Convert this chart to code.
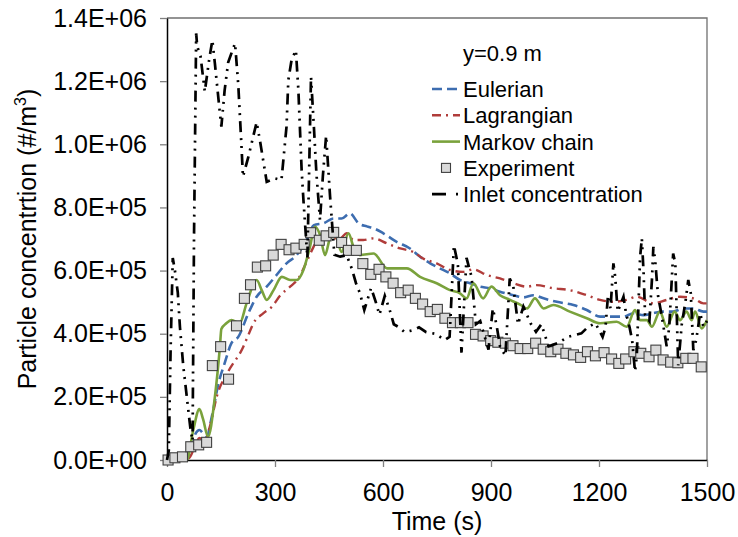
<!DOCTYPE html>
<html>
<head>
<meta charset="utf-8">
<script src="https://cdn.jsdelivr.net/npm/d3@7"></script>
<style>
  body { margin: 0; background: #fff; }
  text { font-family: "Liberation Sans", Arial, sans-serif; fill: #000; }
</style>
</head>
<body>
<div id="chart"></div>
<script>
//size of the picture and of the plot box inside it
var width = 738,
  height = 537;
var margin = { top: 18, right: 31, bottom: 77, left: 167 };

//axis ticks
var xTicks = [0, 300, 600, 900, 1200, 1500];
var yTicks = [0, 2e5, 4e5, 6e5, 8e5, 1e6, 1.2e6, 1.4e6];
var yTickLabels = ["0.0E+00", "2.0E+05", "4.0E+05", "6.0E+05", "8.0E+05", "1.0E+06", "1.2E+06", "1.4E+06"];

//legend names, in the order of the legend
var seriesNames = ["Eulerian", "Lagrangian", "Markov chain", "Experiment", "Inlet concentration"];

//eulerian model (time s, concentration #/m3)
var eulerianTime = [0, 40, 65, 80, 90, 100, 110, 125, 143, 160, 179, 198, 226, 249, 277, 300, 332, 360, 388, 408, 435, 463, 485, 508, 532, 555, 574, 601, 638, 675, 703, 731, 758, 786, 814, 842, 869, 897, 925, 962, 990, 1018, 1046, 1083, 1129, 1166, 1203, 1240, 1268, 1296, 1323, 1351, 1378, 1406, 1434, 1462, 1490, 1500];
var eulerianValue = [0, 2e3, 20e3, 85e3, 95e3, 85e3, 75e3, 140e3, 243e3, 306e3, 370e3, 390e3, 465e3, 517e3, 549e3, 580e3, 623e3, 649e3, 697e3, 744e3, 750e3, 765e3, 765e3, 781e3, 750e3, 740e3, 734e3, 718e3, 691e3, 670e3, 644e3, 623e3, 607e3, 591e3, 570e3, 560e3, 549e3, 544e3, 533e3, 522e3, 515e3, 522e3, 512e3, 501e3, 491e3, 475e3, 454e3, 454e3, 454e3, 465e3, 459e3, 465e3, 470e3, 470e3, 480e3, 480e3, 470e3, 470e3];

//lagrangian model
var lagrangianTime = [0, 60, 80, 90, 105, 120, 138, 170, 210, 226, 240, 268, 291, 315, 342, 365, 388, 407, 425, 448, 481, 499, 518, 545, 574, 611, 648, 684, 712, 749, 786, 823, 851, 888, 925, 962, 1000, 1026, 1073, 1119, 1166, 1203, 1240, 1277, 1305, 1351, 1388, 1425, 1462, 1490, 1500];
var lagrangianValue = [0, 5e3, 50e3, 70e3, 60e3, 110e3, 200e3, 280e3, 354e3, 396e3, 433e3, 465e3, 485e3, 522e3, 549e3, 575e3, 628e3, 675e3, 713e3, 702e3, 702e3, 718e3, 697e3, 697e3, 702e3, 686e3, 670e3, 659e3, 638e3, 623e3, 602e3, 596e3, 604e3, 586e3, 575e3, 560e3, 549e3, 554e3, 544e3, 538e3, 522e3, 507e3, 501e3, 507e3, 517e3, 496e3, 507e3, 517e3, 512e3, 496e3, 496e3];

//markov chain model
var markovTime = [0, 55, 73, 90, 100, 114, 133, 147, 151, 165, 179, 202, 221, 249, 263, 277, 296, 319, 342, 360, 379, 397, 411, 425, 439, 453, 467, 485, 504, 518, 536, 574, 611, 666, 703, 749, 786, 814, 832, 851, 878, 901, 925, 953, 981, 1000, 1022, 1046, 1073, 1119, 1166, 1203, 1249, 1277, 1300, 1314, 1333, 1347, 1369, 1388, 1410, 1425, 1443, 1457, 1467, 1485, 1500];
var markovValue = [0, 0, 95e3, 161e3, 130e3, 74e3, 200e3, 359e3, 415e3, 433e3, 443e3, 433e3, 496e3, 570e3, 538e3, 507e3, 538e3, 580e3, 570e3, 570e3, 602e3, 675e3, 739e3, 713e3, 649e3, 702e3, 713e3, 659e3, 718e3, 675e3, 649e3, 654e3, 607e3, 607e3, 580e3, 560e3, 538e3, 528e3, 512e3, 560e3, 512e3, 549e3, 522e3, 507e3, 492e3, 480e3, 512e3, 480e3, 491e3, 470e3, 449e3, 433e3, 438e3, 422e3, 475e3, 443e3, 443e3, 422e3, 470e3, 422e3, 470e3, 443e3, 470e3, 443e3, 470e3, 417e3, 443e3];

//measured points
var experimentTime = [3, 22, 43, 66, 88, 110, 126, 149, 171, 193, 215, 232, 251, 274, 295, 317, 339, 358, 381, 399, 423, 442, 463, 485, 504, 526, 544, 566, 589, 608, 628, 649, 670, 690, 710, 731, 751, 772, 793, 815, 836, 857, 878, 899, 919, 940, 961, 981, 1002, 1024, 1045, 1066, 1086, 1108, 1129, 1149, 1168, 1190, 1214, 1235, 1255, 1274, 1297, 1316, 1339, 1358, 1378, 1399, 1419, 1441, 1461, 1484];
var experimentValue = [0, 7e3, 10e3, 42e3, 48e3, 56e3, 299e3, 359e3, 256e3, 425e3, 512e3, 555e3, 611e3, 615e3, 649e3, 683e3, 666e3, 671e3, 683e3, 720e3, 696e3, 710e3, 721e3, 689e3, 664e3, 664e3, 622e3, 588e3, 604e3, 580e3, 560e3, 530e3, 538e3, 512e3, 494e3, 470e3, 477e3, 449e3, 435e3, 435e3, 435e3, 398e3, 393e3, 378e3, 373e3, 370e3, 362e3, 353e3, 353e3, 370e3, 351e3, 343e3, 351e3, 338e3, 333e3, 325e3, 343e3, 330e3, 340e3, 320e3, 306e3, 320e3, 343e3, 338e3, 327e3, 348e3, 317e3, 310e3, 308e3, 322e3, 322e3, 295e3];

//inlet concentration
var inletTime = [0, 5, 10, 16, 22, 30, 36, 45, 55, 65, 71, 75, 81, 84, 93, 105, 117, 126, 133, 145, 151, 160, 170, 189, 198, 207, 211, 226, 249, 258, 277, 300, 318, 332, 337, 346, 358, 365, 374, 379, 390, 400, 408, 415, 425, 433, 442, 453, 465, 481, 499, 513, 525, 536, 548, 567, 580, 590, 605, 620, 630, 645, 660, 680, 700, 720, 745, 772, 785, 797, 808, 818, 832, 846, 858, 870, 880, 893, 905, 915, 925, 940, 952, 962, 975, 990, 1010, 1025, 1040, 1060, 1085, 1114, 1151, 1170, 1190, 1210, 1218, 1225, 1232, 1240, 1245, 1252, 1268, 1275, 1285, 1292, 1300, 1305, 1314, 1319, 1324, 1328, 1340, 1347, 1351, 1356, 1364, 1373, 1388, 1395, 1406, 1412, 1420, 1430, 1440, 1448, 1455, 1462, 1470, 1481, 1490, 1500];
var inletValue = [0, 30e3, 350e3, 640e3, 600e3, 530e3, 420e3, 300e3, 200e3, 100e3, 60e3, 700e3, 1351e3, 1310e3, 1280e3, 1167e3, 1267e3, 1330e3, 1256e3, 1120e3, 1056e3, 1170e3, 1260e3, 1320e3, 1188e3, 992e3, 897e3, 960e3, 1070e3, 1013e3, 881e3, 892e3, 887e3, 1056e3, 1203e3, 1267e3, 1298e3, 1170e3, 918e3, 823e3, 640e3, 1214e3, 1056e3, 908e3, 760e3, 900e3, 1027e3, 834e3, 650e3, 644e3, 649e3, 607e3, 560e3, 528e3, 475e3, 545e3, 500e3, 460e3, 520e3, 470e3, 430e3, 420e3, 405e3, 410e3, 420e3, 405e3, 400e3, 380e3, 390e3, 680e3, 620e3, 340e3, 640e3, 580e3, 430e3, 440e3, 400e3, 350e3, 480e3, 430e3, 360e3, 330e3, 575e3, 550e3, 430e3, 486e3, 433e3, 406e3, 430e3, 360e3, 370e3, 390e3, 401e3, 422e3, 433e3, 390e3, 420e3, 522e3, 480e3, 623e3, 580e3, 470e3, 517e3, 465e3, 420e3, 380e3, 280e3, 330e3, 640e3, 702e3, 590e3, 460e3, 440e3, 570e3, 675e3, 633e3, 520e3, 465e3, 360e3, 420e3, 654e3, 623e3, 300e3, 430e3, 500e3, 570e3, 528e3, 348e3, 380e3, 465e3, 422e3, 440e3];

var svg = d3
  .select("#chart")
  .append("svg")
  .attr("width", width)
  .attr("height", height);

var x = d3
  .scaleLinear()
  .domain([0, 1500])
  .range([margin.left, width - margin.right]);

var y = d3
  .scaleLinear()
  .domain([0, 1.4e6])
  .range([height - margin.bottom, margin.top]);

//top and right frame of the plot box
svg
  .append("path")
  .attr("d", "M" + x(0) + "," + y(1.4e6) + "H" + x(1500) + "V" + y(0))
  .attr("fill", "none")
  .attr("stroke", "#707070")
  .attr("stroke-width", 1.3);

//axes
var xAxis = svg
  .append("g")
  .attr("transform", "translate(0," + y(0) + ")")
  .call(
    d3
      .axisBottom(x)
      .tickValues(xTicks)
      .tickFormat(d3.format("d"))
      .tickSize(7)
      .tickSizeOuter(0)
      .tickPadding(16)
  );

var yAxis = svg
  .append("g")
  .attr("transform", "translate(" + x(0) + ",0)")
  .call(
    d3
      .axisLeft(y)
      .tickValues(yTicks)
      .tickFormat(function(d, i) {
        return yTickLabels[i];
      })
      .tickSize(7)
      .tickSizeOuter(0)
      .tickPadding(13)
  );

[xAxis, yAxis].forEach(function(a) {
  a.select(".domain").attr("stroke", "#000").attr("stroke-width", 1.5);
  a.selectAll(".tick line").attr("stroke", "#808080").attr("stroke-width", 1.3);
  a.selectAll(".tick text")
    .attr("font-size", 25)
    .attr("font-family", "Liberation Sans, Arial, sans-serif")
    .attr("fill", "#000");
});

//axis titles
svg
  .append("text")
  .attr("x", (x(0) + x(1500)) / 2)
  .attr("y", 530)
  .attr("text-anchor", "middle")
  .attr("font-size", 25)
  .text("Time (s)");

var yTitle = svg
  .append("text")
  .attr("transform", "translate(36," + (y(0) + y(1.4e6)) / 2 + ") rotate(-90)")
  .attr("text-anchor", "middle")
  .attr("font-size", 25);
yTitle.append("tspan").text("Particle concentrtion (#/m");
yTitle
  .append("tspan")
  .attr("font-size", 16)
  .attr("dy", -10)
  .text("3");
yTitle
  .append("tspan")
  .attr("dy", 10)
  .text(")");

//line makers
function lineOf(times, values, curve) {
  var pts = times.map(function(t, i) {
    return [t, values[i]];
  });
  return d3
    .line()
    .x(function(d) {
      return x(d[0]);
    })
    .y(function(d) {
      return y(d[1]);
    })
    .curve(curve)(pts);
}

var styles = [
  { color: "#3d6db0", dash: "10,5", width: 2.6 },
  { color: "#b03c3a", dash: "9,5,2,5", width: 2.4 },
  { color: "#7aa23c", dash: null, width: 2.6 },
  null,
  { color: "#000", dash: "11,6,2,6,2,6", width: 2.7 }
];

var models = [
  [eulerianTime, eulerianValue],
  [lagrangianTime, lagrangianValue],
  [markovTime, markovValue]
];

models.forEach(function(m, i) {
  svg
    .append("path")
    .attr("d", lineOf(m[0], m[1], d3.curveMonotoneX))
    .attr("fill", "none")
    .attr("stroke", styles[i].color)
    .attr("stroke-width", styles[i].width)
    .attr("stroke-dasharray", styles[i].dash);
});

//experiment squares
var sq = 10;
svg
  .selectAll(".exp")
  .data(experimentTime)
  .enter()
  .append("rect")
  .attr("class", "exp")
  .attr("x", function(t) {
    return x(t) - sq / 2;
  })
  .attr("y", function(t, i) {
    return y(experimentValue[i]) - sq / 2;
  })
  .attr("width", sq)
  .attr("height", sq)
  .attr("fill", "#d9d9d9")
  .attr("stroke", "#404040")
  .attr("stroke-width", 1.1);

//inlet concentration on top
svg
  .append("path")
  .attr("d", lineOf(inletTime, inletValue, d3.curveLinear))
  .attr("fill", "none")
  .attr("stroke", styles[4].color)
  .attr("stroke-width", styles[4].width)
  .attr("stroke-dasharray", styles[4].dash);

//legend
var legend = svg.append("g").attr("font-size", 22);
legend
  .append("text")
  .attr("x", 463)
  .attr("y", 61)
  .text("y=0.9 m");

seriesNames.forEach(function(name, i) {
  var cy = 89 + i * 26.3;
  if (styles[i]) {
    legend
      .append("line")
      .attr("x1", 432)
      .attr("x2", 460)
      .attr("y1", cy)
      .attr("y2", cy)
      .attr("stroke", styles[i].color)
      .attr("stroke-width", styles[i].width)
      .attr("stroke-dasharray", i == 4 ? "14,10,2,4" : styles[i].dash);
  } else {
    legend
      .append("rect")
      .attr("x", 441.5)
      .attr("y", cy - 4.5)
      .attr("width", 9)
      .attr("height", 9)
      .attr("fill", "#d9d9d9")
      .attr("stroke", "#404040")
      .attr("stroke-width", 1.1);
  }
  legend
    .append("text")
    .attr("x", 463)
    .attr("y", cy)
    .attr("dy", "0.36em")
    .text(name);
});
</script>
</body>
</html>
